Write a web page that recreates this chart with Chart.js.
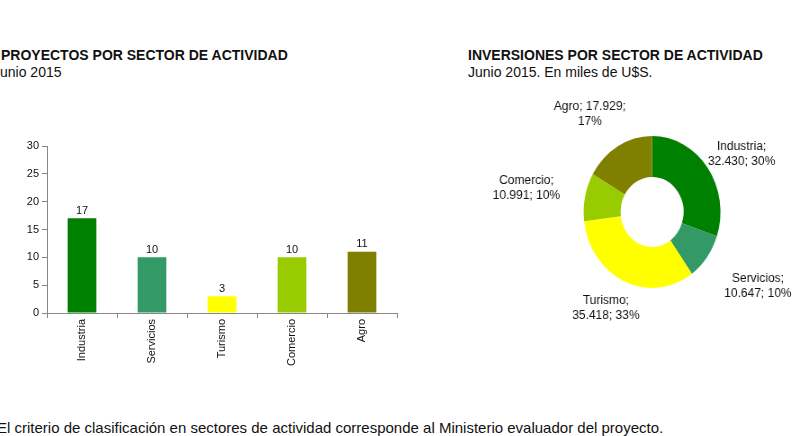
<!DOCTYPE html>
<html>
<head>
<meta charset="utf-8">
<script src="https://cdn.jsdelivr.net/npm/chart.js@4.4.1/dist/chart.umd.min.js"></script>
<style>
  body { margin: 0; background: #fff; width: 800px; height: 436px; overflow: hidden; position: relative;
         font-family: "Liberation Sans", Arial, sans-serif; color: #111; }
  .txt { position: absolute; white-space: nowrap; line-height: 16px; }
  .title { font-weight: bold; font-size: 14px; }
  .sub { font-size: 14px; }
</style>
</head>
<body>
<div class="txt title" style="left:1px; top:47px;">PROYECTOS POR SECTOR DE ACTIVIDAD</div>
<div class="txt sub" style="left:-7px; top:64px;">Junio 2015</div>
<div class="txt title" style="left:468px; top:47px;">INVERSIONES POR SECTOR DE ACTIVIDAD</div>
<div class="txt sub" style="left:468px; top:64px;">Junio 2015. En miles de U$S.</div>

<div style="position:absolute; left:0; top:130px; width:410px; height:250px;">
  <canvas id="proyectos"></canvas>
</div>
<canvas id="inversiones" width="360" height="240" style="position:absolute; left:476px; top:95px;"></canvas>

<div class="txt" style="left:-3px; top:420px; font-size:15px;">El criterio de clasificación en sectores de actividad corresponde al Ministerio evaluador del proyecto.</div>

<script>
// datos
const sectores = ["Industria", "Servicios", "Turismo", "Comercio", "Agro"];
const proyectos = [17, 10, 3, 10, 11];
const inversiones = [32430, 10647, 35418, 10991, 17929];   // miles de U$S
const coloresSector = ["#008000", "#339966", "#ffff00", "#99cc00", "#808000"];
const ticksY = [0, 5, 10, 15, 20, 25, 30];

// the donut in the picture is a bit narrower than tall
const squeeze = 0.9;
// distance of each donut label from the ring edge
const labelGap = [9, 33, 14, 29, 22];

Chart.defaults.font.family = '"Liberation Sans", Arial, sans-serif';
Chart.defaults.color = '#111';
Chart.defaults.animation = false;

function formatMiles(v) {
    return String(v).replace(/\B(?=(\d{3})+(?!\d))/g, '.');
}

function wrapText(ctx, text, maxWidth) {
    const words = text.split(' ');
    const lines = [];
    let line = '';
    words.forEach((w) => {
        const test = line ? line + ' ' + w : w;
        if (line && ctx.measureText(test).width > maxWidth) {
            lines.push(line);
            line = w;
        } else {
            line = test;
        }
    });
    if (line) lines.push(line);
    return lines;
}

const barValues = {
    id: 'barValues',
    afterDatasetsDraw(chart) {
        const ctx = chart.ctx;
        const meta = chart.getDatasetMeta(0);
        ctx.save();
        ctx.font = '11px "Liberation Sans", Arial, sans-serif';
        ctx.fillStyle = '#111';
        ctx.textAlign = 'center';
        ctx.textBaseline = 'bottom';
        meta.data.forEach((bar, i) => {
            ctx.fillText(proyectos[i], bar.x, bar.y - 2);
        });
        ctx.restore();
    }
};

const donutLabels = {
    id: 'donutLabels',
    afterDatasetsDraw(chart) {
        const ctx = chart.ctx;
        const meta = chart.getDatasetMeta(0);
        const total = inversiones.reduce((a, b) => a + b, 0);
        const lh = 15;
        ctx.save();
        ctx.font = '12px "Liberation Sans", Arial, sans-serif';
        ctx.fillStyle = '#111';
        ctx.textAlign = 'center';
        ctx.textBaseline = 'middle';
        meta.data.forEach((arc, i) => {
            const p = arc.getProps(['x', 'y', 'startAngle', 'endAngle', 'outerRadius'], true);
            const a = (p.startAngle + p.endAngle) / 2;
            const dx = Math.cos(a), dy = Math.sin(a);
            const rr = p.outerRadius + labelGap[i];
            const pct = Math.round(inversiones[i] / total * 100);
            const text = sectores[i] + '; ' + formatMiles(inversiones[i]) + '; ' + pct + '%';
            const lines = wrapText(ctx, text, 78);
            const w = Math.max(...lines.map((l) => ctx.measureText(l).width));
            const h = lines.length * lh;
            ctx.save();
            ctx.translate(p.x + dx * rr, p.y + dy * rr);
            ctx.scale(1 / squeeze, 1);
            const bx = dx * w / 2, by = dy * h / 2;
            lines.forEach((l, k) => {
                ctx.fillText(l, bx, by - h / 2 + lh / 2 + k * lh);
            });
            ctx.restore();
        });
        ctx.restore();
    }
};

function proyectosChart() {
    new Chart(document.getElementById('proyectos'), {
        type: 'bar',
        data: {
            labels: sectores,
            datasets: [{
                data: proyectos,
                backgroundColor: coloresSector,
                categoryPercentage: 1,
                barPercentage: 0.41
            }]
        },
        options: {
            responsive: true,
            maintainAspectRatio: false,
            layout: { padding: { top: 16, right: 13, left: 0, bottom: 0 } },
            plugins: { legend: { display: false }, tooltip: { enabled: false } },
            scales: {
                x: {
                    grid: { drawOnChartArea: false, tickLength: 5, color: '#888', offset: true },
                    border: { color: '#888' },
                    ticks: { minRotation: 90, maxRotation: 90, autoSkip: false, padding: 1,
                             font: { size: 11 }, color: '#111' },
                    afterFit: (s) => { s.height = 67; }
                },
                y: {
                    min: ticksY[0],
                    max: ticksY[ticksY.length - 1],
                    afterBuildTicks: (s) => { s.ticks = ticksY.map((v) => ({ value: v })); },
                    grid: { drawOnChartArea: false, tickLength: 5, color: '#888' },
                    border: { color: '#888' },
                    ticks: { padding: 3, font: { size: 11 }, color: '#111' },
                    afterFit: (s) => { s.width = 47; }
                }
            }
        },
        plugins: [barValues]
    });
}

function inversionesChart() {
    const canvas = document.getElementById('inversiones');
    canvas.style.transformOrigin = '0 0';
    canvas.style.transform = 'scaleX(' + squeeze + ')';
    new Chart(canvas, {
        type: 'doughnut',
        data: {
            labels: sectores,
            datasets: [{
                data: inversiones,
                backgroundColor: coloresSector,
                borderWidth: 0,
                hoverOffset: 0,
                offset: 0
            }]
        },
        options: {
            responsive: false,
            cutout: '46%',
            layout: { padding: { left: 119.6, right: 88.4, top: 41, bottom: 47 } },
            plugins: { legend: { display: false }, tooltip: { enabled: false } }
        },
        plugins: [donutLabels]
    });
}

proyectosChart();
inversionesChart();
</script>
</body>
</html>
